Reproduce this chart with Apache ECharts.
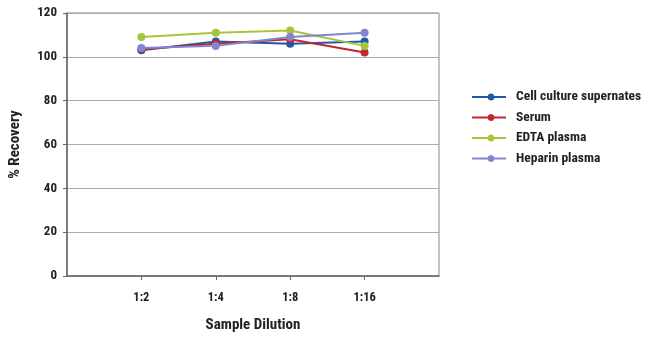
<!DOCTYPE html>
<html><head><meta charset="utf-8">
<script src="https://cdn.jsdelivr.net/npm/echarts@6/dist/echarts.min.js"></script>
<style>html,body{margin:0;padding:0;background:#fff}#c{width:650px;height:341px}</style>
</head><body><div id="c"></div>
<script>
const categories = ['', '1:2', '1:4', '1:8', '1:16', ''];
const cellCulture = [null, 103, 107, 106, 107, null];
const serum = [null, 103.5, 106, 108, 102, null];
const edta = [null, 109, 111, 112, 105, null];
const heparin = [null, 104, 105, 109, 111, null];
const seriesNames = ['Cell culture supernates', 'Serum', 'EDTA plasma', 'Heparin plasma'];
const colors = ['#1f5aa6', '#c1272d', '#a5c63b', '#8585cf'];
const yTicks = [0, 20, 40, 60, 80, 100, 120];

const font = '"Liberation Sans Narrow", "Roboto Condensed", Roboto, sans-serif';
const dataSets = [cellCulture, serum, edta, heparin];
const chart = echarts.init(document.getElementById('c'), null, {renderer: 'canvas'});
chart.setOption({
  animation: false,
  textStyle: {fontFamily: font},
  grid: {left: 63, right: 211, top: 13, bottom: 65, show: true, borderColor: '#8a8a8a', borderWidth: 1},
  legend: {
    orient: 'vertical', left: 467, top: 85, itemGap: 6.5, itemWidth: 34, itemHeight: 7,
    icon: 'path://M0,2.5L15.646,2.5A3.5,3.5 0 0 1 22.354,2.5L34,2.5L34,4.5L22.354,4.5A3.5,3.5 0 0 1 15.646,4.5L0,4.5Z',
    data: seriesNames,
    textStyle: {fontFamily: font, fontWeight: 'bold', fontSize: 13.5, color: '#222', padding: [0, 0, 0, 5]}
  },
  xAxis: {
    type: 'category', data: categories, boundaryGap: false,
    name: 'Sample Dilution', nameLocation: 'middle', nameGap: 42,
    nameTextStyle: {fontFamily: font, fontWeight: 'bold', fontSize: 15, color: '#222'},
    axisLine: {lineStyle: {color: '#666', width: 1.5}},
    axisTick: {show: true, length: 4, lineStyle: {color: '#666'}, interval: function(i){return i>0 && i<categories.length-1;}},
    axisLabel: {fontFamily: font, fontWeight: 'bold', fontSize: 12.5, color: '#222', margin: 15, interval: 0},
    splitLine: {show: false}
  },
  yAxis: {
    type: 'value', min: yTicks[0], max: yTicks[yTicks.length-1], interval: 20,
    name: '% Recovery', nameLocation: 'middle', nameGap: 44, nameRotate: 90,
    nameTextStyle: {fontFamily: font, fontWeight: 'bold', fontSize: 15, color: '#222'},
    axisLine: {show: true, lineStyle: {color: '#666', width: 1.5}},
    axisTick: {show: true, length: 4, lineStyle: {color: '#666'}},
    axisLabel: {fontFamily: font, fontWeight: 'bold', fontSize: 13, color: '#222', margin: 10},
    splitLine: {lineStyle: {color: '#aaa', width: 1}}
  },
  series: seriesNames.map((n, i) => ({
    name: n, type: 'line', data: dataSets[i], symbol: 'circle', symbolSize: 8,
    lineStyle: {color: colors[i], width: 2}, itemStyle: {color: colors[i]}
  }))
});
</script></body></html>
